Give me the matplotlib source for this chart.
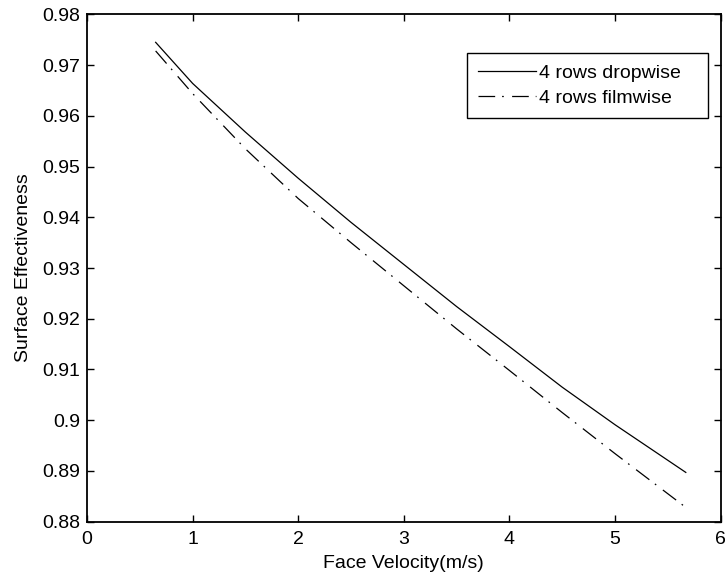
import matplotlib
matplotlib.use("Agg")
import matplotlib.pyplot as plt

plt.rcParams['font.family'] = ['Liberation Sans', 'DejaVu Sans']
plt.rcParams['lines.scale_dashes'] = False

velocity = [0.65, 1.0, 1.5, 2.0, 2.5, 3.0, 3.5, 4.0, 4.5, 5.0, 5.67]
dropwise = [0.9745, 0.9664, 0.9568, 0.9477, 0.9390, 0.9307, 0.9224, 0.9145, 0.9065, 0.8991, 0.8897]
filmwise = [0.9728, 0.9644, 0.9535, 0.9437, 0.9350, 0.9265, 0.9180, 0.9098, 0.9015, 0.8934, 0.8828]

xticks = [0, 1, 2, 3, 4, 5, 6]
xticklabels = ['0', '1', '2', '3', '4', '5', '6']
yticks = [0.88, 0.89, 0.90, 0.91, 0.92, 0.93, 0.94, 0.95, 0.96, 0.97, 0.98]
yticklabels = ['0.88', '0.89', '0.9', '0.91', '0.92', '0.93', '0.94', '0.95', '0.96', '0.97', '0.98']

fig = plt.figure(figsize=(7.25, 5.77), dpi=100)
ax = fig.add_axes([0.12, 0.096, 0.874, 0.879])

ax.plot(velocity, dropwise, color='black', lw=0.9, ls='-', label='4 rows dropwise   ')
ax.plot(velocity, filmwise, color='black', lw=0.9, ls=(0, (12, 5, 1.2, 6)), label='4 rows filmwise   ')

ax.set_xlim(0, 6)
ax.set_ylim(0.88, 0.98)
ax.set_xticks(xticks)
ax.set_xticklabels(xticklabels)
ax.set_yticks(yticks)
ax.set_yticklabels(yticklabels)
ax.tick_params(direction='in', top=True, right=True, length=5, width=1, labelsize=14)
ax.tick_params(axis='x', pad=7)
ax.tick_params(axis='y', pad=5)
for s in ax.spines.values():
    s.set_linewidth(1.3)

ax.set_xlabel('Face Velocity(m/s)', fontsize=14, labelpad=5)
ax.set_ylabel('Surface Effectiveness', fontsize=14, labelpad=7)

leg = ax.legend(loc='upper right', bbox_to_anchor=(0.980, 0.923), borderaxespad=0, fontsize=14,
                handlelength=3.0, handletextpad=0.15, borderpad=0.55, labelspacing=0.4,
                frameon=True, fancybox=False, edgecolor='black', framealpha=1)
leg.get_frame().set_linewidth(1.0)

fig.savefig('out.png', dpi=100)
